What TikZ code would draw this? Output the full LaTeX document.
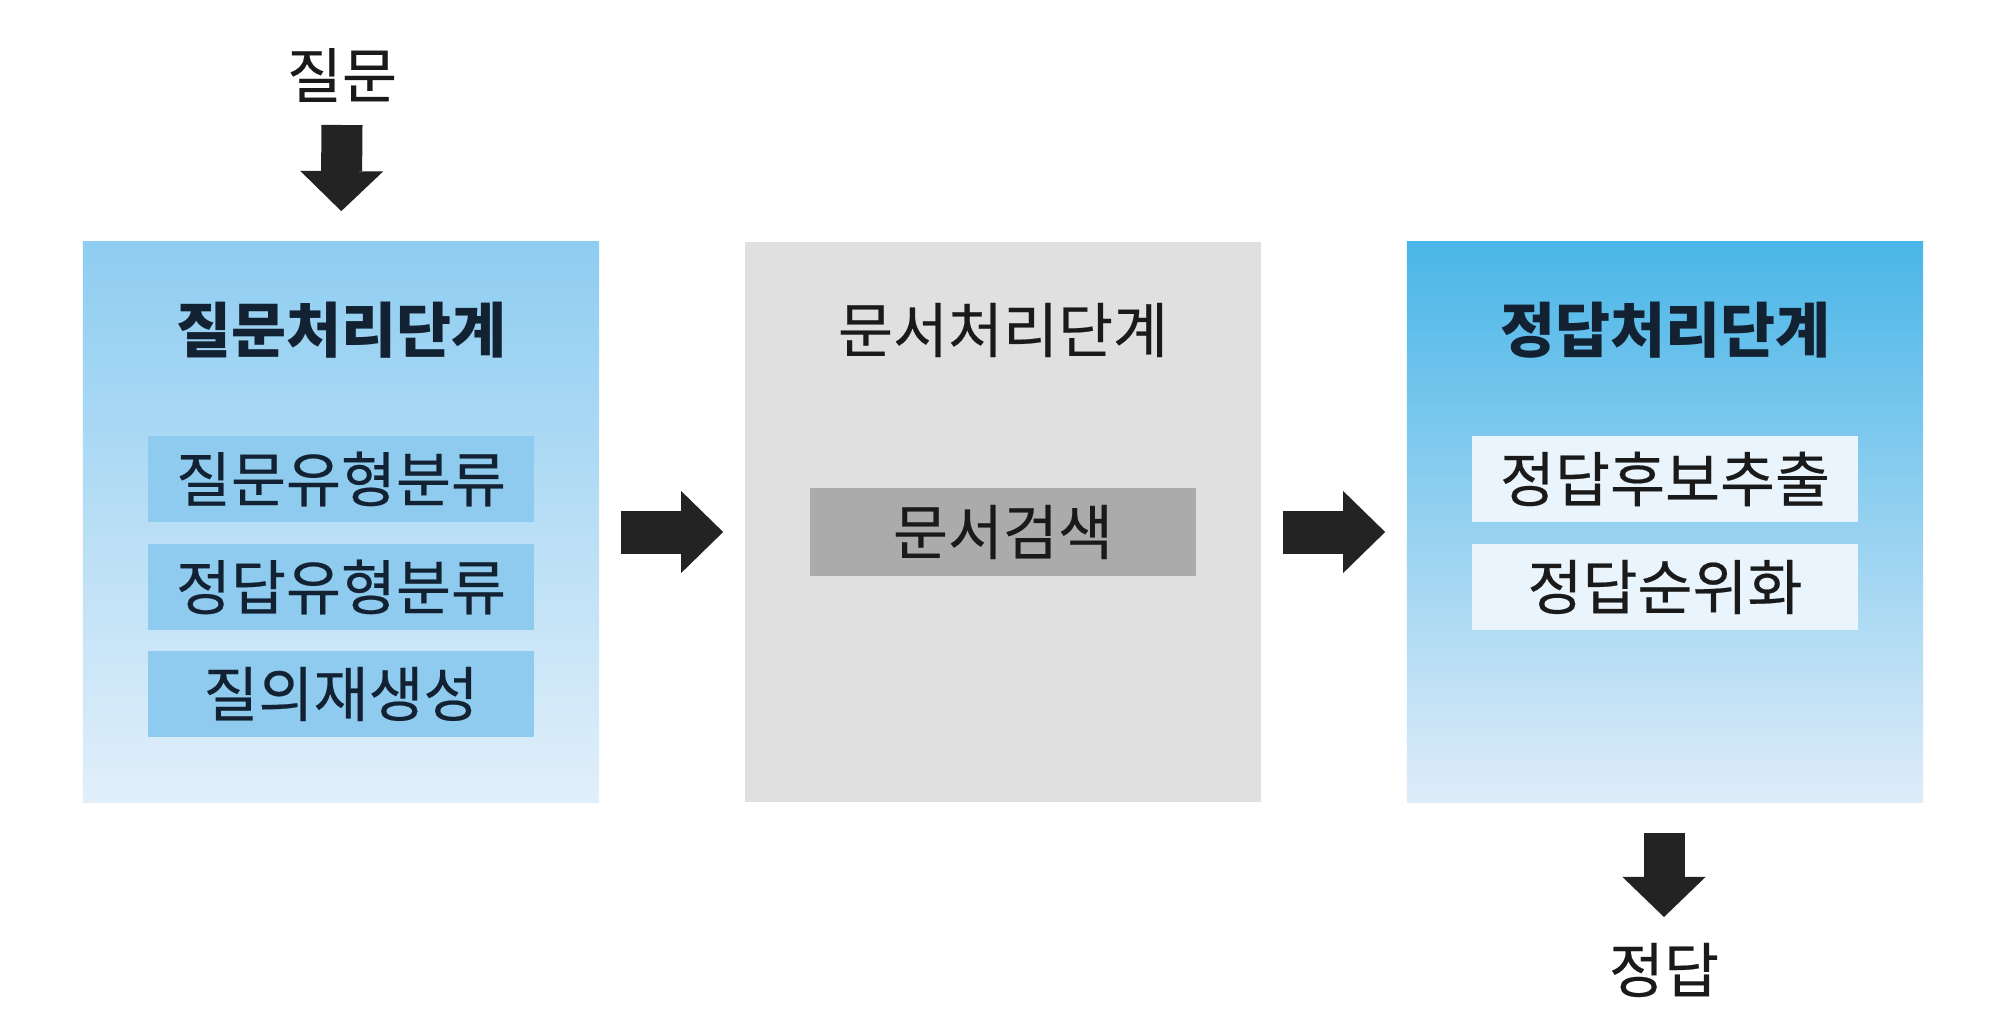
\documentclass[tikz,border=0pt]{standalone}
\usepackage{fontspec}
\setmainfont{Noto Sans CJK KR}
\newfontfamily\regfont[FakeBold=0.35]{Noto Sans CJK KR}
\usetikzlibrary{arrows.meta}
\definecolor{navytext}{HTML}{122232}
\definecolor{darktext}{HTML}{1A1A1A}
\definecolor{arrowcol}{HTML}{232323}
\definecolor{ltop}{HTML}{8ECDF1}
\definecolor{lbot}{HTML}{E1EFFA}
\definecolor{rtop}{HTML}{4AB6E8}
\definecolor{rbot}{HTML}{DFECF9}
\definecolor{lsub}{HTML}{8FCBEF}
\definecolor{rsub}{HTML}{E9F4FC}
\definecolor{midbg}{HTML}{E0E0E0}
\definecolor{midsub}{HTML}{ABABAB}
\tikzset{
  stagebox/.style={rectangle, minimum width=5.16cm, minimum height=5.60cm, inner sep=0pt, draw=none},
  subbox/.style={rectangle, minimum width=3.86cm, minimum height=0.86cm, inner sep=0pt, font=\regfont\fontsize{17}{19}\selectfont},
  titletext/.style={inner sep=0pt, font=\regfont\fontsize{17}{19}\selectfont},
  boldtitle/.style={inner sep=0pt, font=\fontsize{17}{19}\selectfont\bfseries},
  vertarrow/.style={draw=arrowcol, line width=0.41cm, -{Triangle[width=0.83cm,length=0.40cm,line width=0pt]}, arrowcol},
  horarrow/.style={draw=arrowcol, line width=0.43cm, -{Triangle[width=0.82cm,length=0.42cm,line width=0pt]}, arrowcol, shorten <=0.21cm, shorten >=0.21cm}
}
\begin{document}
\begin{tikzpicture}[x=0.01cm,y=-0.01cm]
\useasboundingbox[fill=white] (0,0) rectangle (2000,1024);

% stage boxes
\node[stagebox, top color=ltop, bottom color=lbot] (q) at (341,522) {};
\node[stagebox, fill=midbg] (d) at (1003,522) {};
\node[stagebox, top color=rtop, bottom color=rbot] (r) at (1665,522) {};

% titles
\node[boldtitle, text=navytext] (qt) at (341,330) {질문처리단계};
\node[titletext, text=darktext] (dt) at (1003,330) {문서처리단계};
\node[boldtitle, text=navytext] (rt) at (1665,330) {정답처리단계};

% sub boxes
\node[subbox, fill=lsub, text=navytext] (q1) at (341,479) {질문유형분류};
\node[subbox, fill=lsub, text=navytext] (q2) at (341,587) {정답유형분류};
\node[subbox, fill=lsub, text=navytext] (q3) at (341,694) {질의재생성};
\node[subbox, fill=midsub, text=darktext, minimum height=0.88cm] (d1) at (1003,532) {문서검색};
\node[subbox, fill=rsub, text=darktext] (r1) at (1665,479) {정답후보추출};
\node[subbox, fill=rsub, text=darktext] (r2) at (1665,587) {정답순위화};

% input / output labels
\node[titletext, text=darktext] (qin) at (342,75) {질문};
\node[titletext, text=darktext] (aout) at (1664,970) {정답};

\coordinate (qstart) at (342,125);
\coordinate (aend) at (1664,917);

% arrows
\draw[vertarrow, shorten >=0.30cm] (qstart) -- (q.north);
\draw[horarrow] ([yshift=-0.10cm]q.east) -- ([yshift=-0.10cm]d.west);
\draw[horarrow] ([yshift=-0.10cm]d.east) -- ([yshift=-0.10cm]r.west);
\draw[vertarrow, shorten <=0.30cm] ([xshift=-0.01cm]r.south) -- (aend);
\end{tikzpicture}
\end{document}
